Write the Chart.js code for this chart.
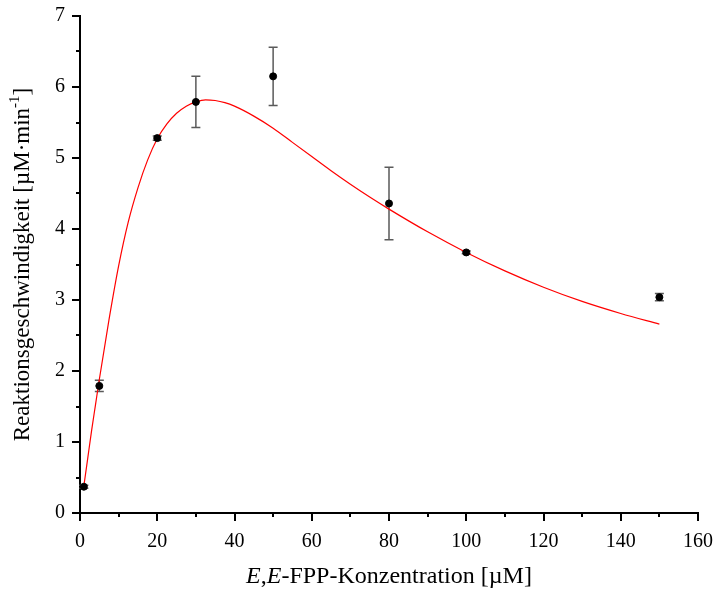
<!DOCTYPE html>
<html>
<head>
<meta charset="utf-8">
<script src="https://cdn.jsdelivr.net/npm/chart.js@4.4.0/dist/chart.umd.min.js"></script>
<style>
  html, body { margin: 0; padding: 0; background: #fff; }
</style>
</head>
<body>
<canvas id="chart" width="715" height="592"></canvas>
<script>
// Messwerte
const konz = [1, 5, 20, 30, 50, 80, 100, 150];
const geschw = [0.37, 1.79, 5.28, 5.79, 6.15, 4.36, 3.67, 3.04];
const fehler = [0.02, 0.08, 0.03, 0.36, 0.41, 0.51, 0.02, 0.05];

// Fit-Kurve
const fitX = [1, 2, 3, 4, 5, 7.5, 10, 12.5, 15, 17.5, 20, 22.5, 25, 27.5, 30, 32.5, 35, 37.5, 40, 45, 50, 55, 60, 65, 70, 75, 80, 90, 100, 110, 120, 130, 140, 150];
const fitY = [0.38, 0.77, 1.16, 1.52, 1.88, 2.72, 3.48, 4.10, 4.58, 4.97, 5.27, 5.48, 5.63, 5.73, 5.79, 5.82, 5.81, 5.78, 5.73, 5.59, 5.42, 5.22, 5.02, 4.82, 4.63, 4.45, 4.28, 3.96, 3.67, 3.41, 3.18, 2.98, 2.81, 2.66];

const xTitle = [['E', true], [',', false], ['E', true], ['-FPP-Konzentration [µM]', false]];
const yTitle = 'Reaktionsgeschwindigkeit [µM·min';

const FONT = '"Liberation Serif", "Times New Roman", serif';

/*fehlerbalken, kleine ticks, achsentitel*/
const extras = {
  id: 'extras',
  beforeDatasetsDraw(chart) {
    const ctx = chart.ctx;
    const x = chart.scales.x, y = chart.scales.y;
    ctx.save();
    ctx.strokeStyle = '#5a5a5a';
    ctx.lineWidth = 1.5;
    konz.forEach((k, i) => {
      const px = x.getPixelForValue(k);
      const top = y.getPixelForValue(geschw[i] + fehler[i]);
      const bot = y.getPixelForValue(geschw[i] - fehler[i]);
      ctx.beginPath();
      ctx.moveTo(px, top); ctx.lineTo(px, bot);
      ctx.moveTo(px - 4.5, top); ctx.lineTo(px + 4.5, top);
      ctx.moveTo(px - 4.5, bot); ctx.lineTo(px + 4.5, bot);
      ctx.stroke();
    });
    ctx.restore();
  },
  afterDraw(chart) {
    const ctx = chart.ctx;
    const x = chart.scales.x, y = chart.scales.y;
    const area = chart.chartArea;
    ctx.save();
    ctx.strokeStyle = '#000';
    ctx.lineWidth = 2;
    ctx.beginPath();
    for (let v = 0; v <= 160; v += 10) {
      const px = Math.round(x.getPixelForValue(v));
      const len = v % 20 === 0 ? 8 : 4;
      ctx.moveTo(px, area.bottom); ctx.lineTo(px, area.bottom + len);
    }
    for (let v = 0; v <= 7; v += 0.5) {
      const py = Math.round(y.getPixelForValue(v));
      const len = v % 1 === 0 ? 8 : 4;
      ctx.moveTo(area.left, py); ctx.lineTo(area.left - len, py);
    }
    ctx.stroke();

    // x titel
    ctx.fillStyle = '#000';
    ctx.textBaseline = 'middle';
    ctx.textAlign = 'left';
    let w = 0;
    xTitle.forEach(([t, it]) => {
      ctx.font = (it ? 'italic ' : '') + '24px ' + FONT;
      w += ctx.measureText(t).width;
    });
    let cx = (area.left + area.right) / 2 - w / 2;
    xTitle.forEach(([t, it]) => {
      ctx.font = (it ? 'italic ' : '') + '24px ' + FONT;
      ctx.fillText(t, cx, 577);
      cx += ctx.measureText(t).width;
    });

    // y titel
    ctx.translate(23, (area.top + area.bottom) / 2);
    ctx.rotate(-Math.PI / 2);
    ctx.font = '23px ' + FONT;
    const w1 = ctx.measureText(yTitle).width;
    ctx.font = '15px ' + FONT;
    const w2 = ctx.measureText('-1').width;
    ctx.font = '23px ' + FONT;
    const w3 = ctx.measureText(']').width;
    let sx = -(w1 + w2 + w3) / 2;
    ctx.fillText(yTitle, sx, 0);
    sx += w1;
    ctx.font = '15px ' + FONT;
    ctx.fillText('-1', sx, -8);
    sx += w2;
    ctx.font = '23px ' + FONT;
    ctx.fillText(']', sx, 0);
    ctx.restore();
  }
};

const ctx = document.getElementById('chart').getContext('2d');
new Chart(ctx, {
  type: 'scatter',
  data: {
    datasets: [
      {
        label: 'Messwerte',
        data: konz.map((k, i) => ({ x: k, y: geschw[i] })),
        backgroundColor: '#000',
        borderColor: '#000',
        pointRadius: 3.5,
        pointHoverRadius: 3.5,
        showLine: false
      },
      {
        label: 'Fit',
        data: fitX.map((k, i) => ({ x: k, y: fitY[i] })),
        borderColor: '#ff0000',
        borderWidth: 1.2,
        pointRadius: 0,
        showLine: true,
        cubicInterpolationMode: 'monotone'
      }
    ]
  },
  options: {
    responsive: false,
    animation: false,
    layout: { padding: { left: 0, top: 16, right: 17, bottom: 0 } },
    scales: {
      x: {
        type: 'linear',
        min: 0, max: 160,
        afterFit(s) { s.height = 79; s.paddingLeft = 0; s.paddingRight = 0; },
        grid: { display: false, drawTicks: false },
        border: { display: true, color: '#000', width: 2 },
        ticks: { stepSize: 20, padding: 17, color: '#000', font: { family: FONT, size: 20 } }
      },
      y: {
        type: 'linear',
        min: 0, max: 7,
        afterFit(s) { s.width = 80; s.paddingTop = 0; s.paddingBottom = 0; },
        grid: { display: false, drawTicks: false },
        border: { display: true, color: '#000', width: 2 },
        ticks: { stepSize: 1, padding: 15, color: '#000', font: { family: FONT, size: 20 } }
      }
    },
    plugins: {
      legend: { display: false },
      tooltip: { enabled: false }
    }
  },
  plugins: [extras]
});
</script>
</body>
</html>
